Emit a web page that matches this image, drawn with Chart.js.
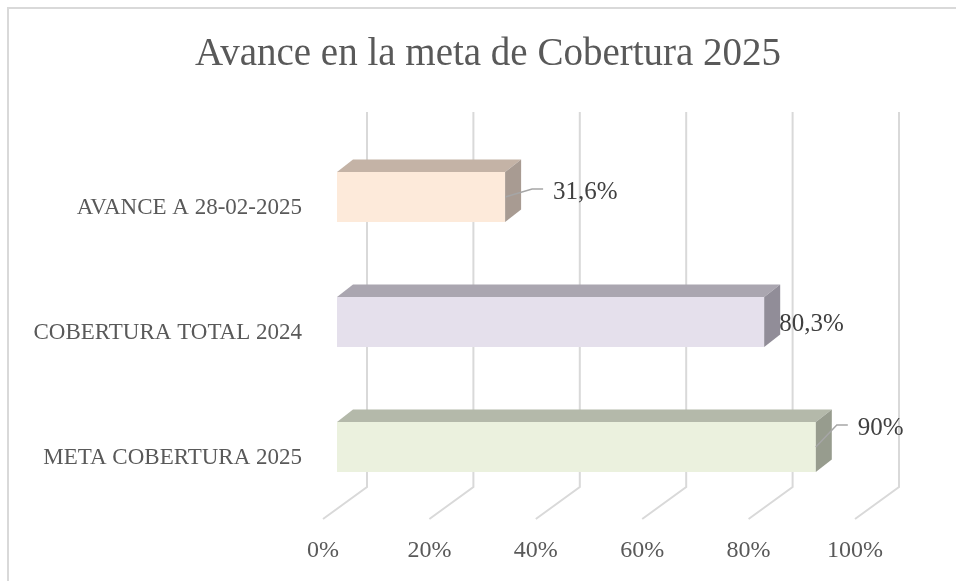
<!DOCTYPE html>
<html>
<head>
<meta charset="utf-8">
<title>Avance en la meta de Cobertura 2025</title>
<script src="https://cdn.jsdelivr.net/npm/chart.js@4.4.1/dist/chart.umd.min.js"></script>
<style>
    html, body { margin: 0; padding: 0; background: #fff; }
    #coberturaChart { display: block; }
</style>
</head>
<body>
<canvas id="coberturaChart" width="956" height="581"></canvas>
<script>
const categories = ['AVANCE A 28-02-2025', 'COBERTURA TOTAL 2024', 'META COBERTURA 2025'];
const coverageValues = [31.6, 80.3, 90];
const axisTicks = [0, 20, 40, 60, 80, 100];

// colours for the three faces of each bar
const frontColors = ['#FDEADA', '#E5E0EC', '#EBF1DE'];
const topColors = ['#C4B3A6', '#AAA6B0', '#B4B9AA'];
const sideColors = ['#A89B92', '#918D98', '#979C8E'];

const FONT = "'Liberation Serif', 'Times New Roman', serif";
const WALL = { dx: 30, dy: -22.5 };   // back wall offset
const FLOOR = { dx: -14, dy: 9.5 };   // front edge of floor
const DEPTH = { dx: 16, dy: -12.5 };  // bar depth

// where each data label sits, relative to the bar end
const labelShift = [[48, -5], [15, 2], [42, -19]];
const hasLeader = [true, false, true];

const formatPercent = (value) => String(value).replace('.', ',') + '%';

const frame3d = {
    id: 'frame3d',
    afterLayout(chart) {
        // centre the title over the whole frame, not only over the plot
        if (chart.titleBlock) {
            chart.titleBlock.left = 20;
            chart.titleBlock.right = 956;
        }
    },
    beforeDraw(chart) {
        const c = chart.ctx;
        c.save();
        c.strokeStyle = '#d9d9d9';
        c.lineWidth = 2;
        c.beginPath();
        c.moveTo(8, 581);
        c.lineTo(8, 8);
        c.lineTo(956, 8);
        c.stroke();
        c.restore();
    },
    beforeDatasetsDraw(chart) {
        const c = chart.ctx;
        const xs = chart.scales.x;
        const area = chart.chartArea;
        c.save();
        c.strokeStyle = '#d9d9d9';
        c.lineWidth = 2;
        axisTicks.forEach(v => {
            const px = xs.getPixelForValue(v);
            c.beginPath();
            c.moveTo(px + WALL.dx, area.top + WALL.dy);
            c.lineTo(px + WALL.dx, area.bottom + WALL.dy);
            c.lineTo(px + FLOOR.dx, area.bottom + FLOOR.dy);
            c.stroke();
        });
        c.restore();
    },
    afterDatasetsDraw(chart) {
        const c = chart.ctx;
        const bars = chart.getDatasetMeta(0).data;
        c.save();
        bars.forEach((bar, i) => {
            const { x, y, base, height } = bar.getProps(['x', 'y', 'base', 'height'], true);
            const top = y - height / 2;
            const bottom = y + height / 2;

            // top face
            c.fillStyle = topColors[i];
            c.beginPath();
            c.moveTo(base, top);
            c.lineTo(x, top);
            c.lineTo(x + DEPTH.dx, top + DEPTH.dy);
            c.lineTo(base + DEPTH.dx, top + DEPTH.dy);
            c.closePath();
            c.fill();

            // right side face
            c.fillStyle = sideColors[i];
            c.beginPath();
            c.moveTo(x, top);
            c.lineTo(x + DEPTH.dx, top + DEPTH.dy);
            c.lineTo(x + DEPTH.dx, bottom + DEPTH.dy);
            c.lineTo(x, bottom);
            c.closePath();
            c.fill();

            // data label
            const lx = x + labelShift[i][0];
            const ly = y + labelShift[i][1];
            if (hasLeader[i]) {
                c.strokeStyle = '#a6a6a6';
                c.lineWidth = 1.5;
                c.beginPath();
                c.moveTo(x, y);
                c.lineTo(lx - 21, ly - 3);
                c.lineTo(lx - 10, ly - 3);
                c.stroke();
            }
            c.fillStyle = '#404040';
            c.font = '25px ' + FONT;
            c.textAlign = 'left';
            c.textBaseline = 'middle';
            c.fillText(formatPercent(coverageValues[i]), lx, ly);
        });
        c.restore();
    }
};

document.addEventListener('DOMContentLoaded', function () {
    const ctx = document.getElementById('coberturaChart');
    if (!ctx) return;

    new Chart(ctx, {
        type: 'bar',
        data: {
            labels: categories,
            datasets: [{
                label: 'Cobertura',
                data: coverageValues,
                backgroundColor: frontColors,
                borderWidth: 0,
                categoryPercentage: 1,
                barPercentage: 0.4
            }]
        },
        options: {
            indexAxis: 'y',
            responsive: false,
            animation: false,
            layout: {
                padding: { left: 0, right: 87, top: 0, bottom: 0 }
            },
            scales: {
                x: {
                    min: 0,
                    max: 100,
                    grid: { display: false, drawTicks: false },
                    border: { display: false },
                    afterFit: (scale) => { scale.height = 71.5; },
                    afterBuildTicks: (scale) => {
                        scale.ticks = axisTicks.map(v => ({ value: v }));
                    },
                    ticks: {
                        padding: 27,
                        labelOffset: -14,
                        color: '#595959',
                        font: { family: FONT, size: 24 },
                        callback: (value) => value + '%'
                    }
                },
                y: {
                    grid: { display: false, drawTicks: false },
                    border: { display: false },
                    afterFit: (scale) => { scale.width = 337; },
                    ticks: {
                        padding: 35,
                        labelOffset: 11,
                        color: '#595959',
                        font: { family: FONT, size: 23 }
                    }
                }
            },
            plugins: {
                legend: { display: false },
                tooltip: { enabled: false },
                title: {
                    display: true,
                    text: 'Avance en la meta de Cobertura 2025',
                    color: '#595959',
                    font: { family: FONT, size: 39, weight: 'normal' },
                    padding: { top: 31, bottom: 56.7 }
                }
            }
        },
        plugins: [frame3d]
    });
});
</script>
</body>
</html>
